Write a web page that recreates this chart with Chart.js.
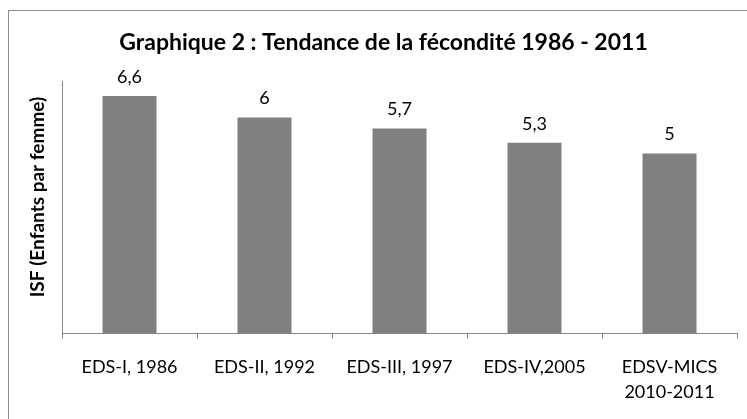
<!DOCTYPE html>
<html>
<head>
<meta charset="utf-8">
<script src="https://cdn.jsdelivr.net/npm/chart.js@4"></script>
<style>
html,body{margin:0;padding:0;background:#fff;overflow:hidden;width:747px;height:419px;}
#frame{position:absolute;left:8px;top:10px;width:750px;height:430px;border:1px solid #8c8c8c;box-sizing:border-box;}
#frame canvas{position:absolute;left:0;top:0;}
</style>
</head>
<body>
<div id="frame"><canvas id="c" width="748" height="420"></canvas></div>
<script>
const categories = [["EDS-I, 1986"], ["EDS-II, 1992"], ["EDS-III, 1997"], ["EDS-IV,2005"], ["EDSV-MICS", "2010-2011"]];
const isfValues = [6.6, 6, 5.7, 5.3, 5];
const valueLabels = ["6,6", "6", "5,7", "5,3", "5"];
const chartTitle = "Graphique 2 : Tendance de la fécondité 1986 - 2011";
const yTitle = "ISF (Enfants par femme)";

const FONT = "Lato, 'Open Sans', sans-serif";

const labelPlugin = {
  id: 'valueLabels',
  afterDatasetsDraw(chart) {
    const ctx = chart.ctx;
    const meta = chart.getDatasetMeta(0);
    ctx.save();
    ctx.font = "18px " + FONT;
    ctx.fillStyle = "#000";
    ctx.textAlign = "center";
    ctx.textBaseline = "middle";
    meta.data.forEach((bar, i) => {
      ctx.fillText(valueLabels[i], bar.x, bar.y - 19);
    });
    // y-axis title
    ctx.font = "bold 19px " + FONT;
    ctx.translate(29, 186);
    ctx.rotate(-Math.PI / 2);
    ctx.fillText(yTitle, 0, 0);
    ctx.restore();
  }
};

new Chart(document.getElementById('c'), {
  type: 'bar',
  data: {
    labels: categories,
    datasets: [{
      data: isfValues,
      backgroundColor: '#808080',
      borderWidth: 0,
      barPercentage: 0.4,
      categoryPercentage: 1.0
    }]
  },
  options: {
    responsive: false,
    animation: false,
    devicePixelRatio: 1,
    layout: { padding: { left: 21, right: 20, top: 0, bottom: 10 } },
    plugins: {
      legend: { display: false },
      tooltip: { enabled: false },
      title: {
        display: true,
        text: chartTitle,
        color: '#000',
        align: 'center',
        font: { family: FONT, size: 23, weight: 'bold', lineHeight: 1.2 },
        padding: { top: 18, bottom: 25 }
      }
    },
    scales: {
      x: {
        grid: {
          display: true,
          drawOnChartArea: false,
          drawTicks: true,
          tickLength: 5,
          color: '#868686',
          offset: true
        },
        border: { display: true, color: '#868686', width: 1 },
        ticks: {
          color: '#000',
          font: { family: FONT, size: 18, lineHeight: 1.4 },
          padding: 16,
          maxRotation: 0,
          autoSkip: false
        }
      },
      y: {
        min: 0,
        max: 7,
        afterFit(scale) { scale.width = 32; },
        grid: { display: false, drawTicks: false },
        border: { display: true, color: '#868686', width: 1 },
        ticks: { display: false }
      }
    }
  },
  plugins: [labelPlugin]
});
</script>
</body>
</html>
